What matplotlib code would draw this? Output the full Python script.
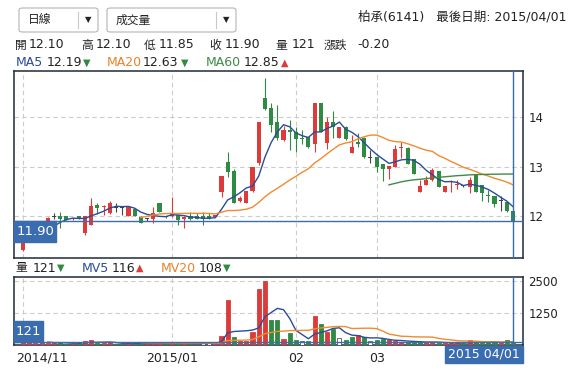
import matplotlib
matplotlib.use('Agg')
import matplotlib.pyplot as plt
from matplotlib.patches import Rectangle, FancyBboxPatch
from matplotlib.transforms import blended_transform_factory, ScaledTranslation
import numpy as np
import pandas as pd

plt.rcParams['font.family'] = ['DejaVu Sans', 'Noto Sans CJK TC']

# --- DATA (daily candles, 2014/10/31 .. 2015/04/01) ---
opens = [11.31, 11.52, 11.58, 11.66, 11.85, 12.00, 12.01, 12.00, 11.94, 12.00,
         11.65, 11.82, 12.22, 12.18, 12.06, 12.18, 12.17, 12.01, 12.15, 11.99,
         11.95, 11.94, 12.26, 11.99, 12.01, 12.02, 11.94, 12.00, 12.00, 12.00,
         12.00, 11.99, 12.49, 13.10, 12.92, 12.30, 12.26, 12.50, 13.08, 14.39,
         14.20, 13.91, 13.54, 13.74, 13.71, 13.57, 13.61, 13.46, 14.29, 13.49,
         13.91, 13.59, 13.81, 13.28, 13.51, 13.58, 13.19, 13.19, 13.05, 12.95,
         13.00, 13.38, 13.39, 13.15, 12.49, 12.64, 12.74, 12.91, 12.49, 12.62,
         12.64, 12.61, 12.59, 12.83, 12.64, 12.41, 12.41, 12.31, 12.29, 12.10]
highs = [11.60, 11.62, 11.70, 11.85, 11.98, 12.07, 12.09, 12.00, 11.96, 12.00,
         12.00, 12.36, 12.26, 12.23, 12.30, 12.27, 12.21, 12.20, 12.15, 12.00,
         11.97, 12.18, 12.27, 12.00, 12.38, 12.03, 12.00, 12.08, 12.06, 12.08,
         12.06, 12.03, 12.81, 13.30, 12.95, 12.40, 12.51, 13.00, 13.91, 14.79,
         14.30, 14.25, 13.82, 13.95, 13.81, 13.74, 13.61, 14.29, 14.29, 14.01,
         14.14, 13.81, 13.83, 13.64, 13.69, 13.60, 13.34, 13.20, 13.05, 13.02,
         13.44, 13.51, 13.40, 13.15, 12.73, 12.81, 12.97, 12.91, 12.61, 12.73,
         12.73, 12.63, 12.80, 12.83, 12.64, 12.52, 12.41, 12.41, 12.29, 12.10]
lows = [11.30, 11.50, 11.55, 11.62, 11.82, 11.95, 11.75, 11.92, 11.93, 11.94,
        11.62, 11.82, 12.05, 12.02, 12.05, 12.08, 12.02, 12.00, 12.00, 11.85,
        11.90, 11.85, 12.08, 11.97, 11.99, 11.82, 11.76, 11.93, 11.95, 11.82,
        11.95, 11.99, 12.39, 12.80, 12.26, 12.28, 12.26, 12.49, 13.03, 14.15,
        13.71, 13.55, 13.52, 13.34, 13.30, 13.47, 13.38, 13.30, 13.71, 13.35,
        13.58, 13.59, 13.55, 13.28, 13.41, 13.18, 13.07, 12.90, 12.71, 12.75,
        13.00, 13.17, 13.05, 12.85, 12.49, 12.64, 12.72, 12.59, 12.49, 12.49,
        12.55, 12.59, 12.46, 12.49, 12.30, 12.28, 12.19, 12.10, 12.09, 11.85]
closes = [11.51, 11.55, 11.65, 11.80, 11.97, 12.00, 11.94, 11.93, 11.95, 11.94,
          12.00, 12.20, 12.16, 12.19, 12.26, 12.18, 12.17, 12.18, 12.01, 11.86,
          11.95, 12.06, 12.09, 11.98, 12.05, 11.93, 11.99, 11.95, 11.95, 11.95,
          11.95, 12.03, 12.81, 12.90, 12.26, 12.37, 12.51, 13.00, 13.91, 14.18,
          13.85, 13.58, 13.74, 13.70, 13.56, 13.56, 13.41, 14.29, 13.71, 13.91,
          13.81, 13.81, 13.56, 13.41, 13.46, 13.19, 13.19, 13.00, 12.95, 13.01,
          13.35, 13.39, 13.05, 12.85, 12.61, 12.74, 12.93, 12.59, 12.61, 12.63,
          12.65, 12.61, 12.74, 12.49, 12.46, 12.40, 12.24, 12.31, 12.10, 11.90]
volumes = [150, 120, 90, 110, 80, 60, 120, 50, 40, 90,
           150, 180, 70, 60, 120, 50, 40, 90, 60, 80,
           40, 90, 70, 50, 120, 60, 80, 40, 50, 60,
           80, 100, 360, 1770, 320, 160, 160, 500, 2180, 2510,
           970, 970, 240, 460, 200, 160, 160, 1130, 800, 500,
           640, 280, 190, 320, 390, 320, 160, 200, 220, 180,
           160, 110, 100, 150, 120, 100, 100, 90, 80, 60,
           70, 50, 180, 120, 90, 100, 110, 60, 190, 121]
month_idx = [0, 24, 44, 57]
month_labels = ['2014/11', '2015/01', '02', '03']
price_ticks = [12, 13, 14]
vol_ticks = [1250, 2500]
last_date = '2015 04/01'

W, H = 578, 373
RED = '#dc3b3b'
GREEN = '#2f8a44'
FLAT = '#444444'
BLUE = '#3d6da8'
INK = '#222222'
FRAME = '#1e2a38'
GRID = '#cccccc'

fig = plt.figure(figsize=(W / 100, H / 100), dpi=100)


def fx(px):
    return px / W


def fy(py):
    return 1 - py / H


ax = fig.add_axes([fx(14), fy(258), fx(509), 187.3 / H])
axv = fig.add_axes([fx(14), fy(345), fx(509), 68.3 / H])

x = np.arange(len(closes))
o = np.array(opens)
c = np.array(closes)
hi = np.array(highs)
lo = np.array(lows)
v = np.array(volumes)

# --- price panel ---
cols = np.where(c > o, RED, np.where(c < o, GREEN, FLAT))
ax.vlines(x, lo, hi, colors=cols, lw=0.8, zorder=3)
body = np.maximum(np.abs(c - o), 0.02)
ax.bar(x, body, bottom=np.minimum(o, c) - np.where(c == o, 0.01, 0), width=0.66,
       color=cols, lw=0, zorder=3)

s = pd.Series(closes)
ax.plot(x, s.rolling(5).mean(), color='#2b4c9b', lw=1.0, zorder=4)
ax.plot(x, s.rolling(20).mean(), color='#f28a2e', lw=1.0, zorder=4)
ax.plot(x, s.rolling(60).mean(), color='#3f8a47', lw=1.0, zorder=4)

ax.set_xlim(-1.45, 80.6)
ax.set_ylim(11.15, 14.947)
ax.set_yticks(price_ticks)
ax.set_yticklabels([str(t) for t in price_ticks])
ax.set_xticks(month_idx)
ax.set_xticklabels([])
ax.grid(True, color=GRID, ls=(0, (4, 3)), lw=0.8)
ax.set_axisbelow(True)

ax.axhline(closes[-1], color=BLUE, lw=1, zorder=5)
ax.axvline(x[-1], color=BLUE, lw=1, zorder=5)
bl = blended_transform_factory(ax.transAxes, ax.transData)
ax.add_patch(Rectangle((0, closes[-1] - 20.5 / 49.3), 42 / 509, 20.5 / 49.3,
                       transform=bl, color='#3a6cb0', zorder=6, clip_on=False))
ax.text(21 / 509, closes[-1] - 10.5 / 49.3, f'{closes[-1]:.2f}', transform=bl,
        ha='center', va='center', color='white', fontsize=9.5, zorder=7)

# --- volume panel ---
prev = np.r_[o[0], c[:-1]]
vcols = np.where(c > prev, RED, np.where(c < prev, GREEN, 'white'))
vedge = np.where(c == prev, '#555555', vcols)
axv.bar(x, v, width=0.66, color=vcols, edgecolor=vedge, lw=0.6, zorder=3)
sv = pd.Series(volumes)
axv.plot(x, sv.rolling(5).mean(), color='#2b4c9b', lw=1.0, zorder=4)
axv.plot(x, sv.rolling(20).mean(), color='#f28a2e', lw=1.0, zorder=4)
axv.set_xlim(-1.45, 80.6)
axv.set_ylim(0, 2660)
axv.set_yticks(vol_ticks)
axv.set_yticklabels([str(t) for t in vol_ticks])
axv.set_xticks(month_idx)
axv.set_xticklabels(month_labels)
axv.grid(True, color=GRID, ls=(0, (4, 3)), lw=0.8)
axv.set_axisbelow(True)
axv.axhline(volumes[-1], color=BLUE, lw=1, zorder=5)
axv.axvline(x[-1], color=BLUE, lw=1, zorder=5)
blv = blended_transform_factory(axv.transAxes, axv.transData)
vh = 20.7 * 2660 / 68.3
axv.add_patch(Rectangle((0, volumes[-1]), 29 / 509, vh, transform=blv,
                        color='#3a6cb0', zorder=6, clip_on=False))
axv.text(14.5 / 509, volumes[-1] + vh / 2, str(volumes[-1]), transform=blv,
         ha='center', va='center', color='white', fontsize=9.5, zorder=7)

for a in (ax, axv):
    a.yaxis.tick_right()
    a.tick_params(axis='y', length=0, pad=4, labelsize=8.5, labelcolor=INK)
    a.tick_params(axis='x', length=0, pad=5, labelsize=9, labelcolor=INK)
    for sp in a.spines.values():
        sp.set_color(FRAME)
        sp.set_linewidth(1.1)

# keep the first month label inside the frame
lab0 = axv.get_xticklabels()[0]
lab0.set_horizontalalignment('left')
lab0.set_transform(lab0.get_transform() + ScaledTranslation(-7 / 100, 0, fig.dpi_scale_trans))

# date box on the axis
fig.add_artist(Rectangle((fx(445), fy(363)), fx(78), 17.5 / H, transform=fig.transFigure,
                         color='#3a6cb0', zorder=6))
fig.text(fx(484), fy(354), last_date, ha='center', va='center', color='white', fontsize=9,
         zorder=7)

# --- header ---
for x0, x1, div, label, tx in [(19, 98, 78, '日線', 28), (107, 236, 216, '成交量', 116)]:
    fig.add_artist(FancyBboxPatch((fx(x0), fy(32)), fx(x1 - x0), 24 / H,
                                  boxstyle='round,pad=0,rounding_size=0.006',
                                  transform=fig.transFigure, fc='white', ec='#b5b5b5', lw=0.8))
    fig.add_artist(plt.Line2D([fx(div), fx(div)], [fy(12), fy(28)], color='#c8c8c8', lw=0.8))
    fig.text(fx(tx), fy(20), label, ha='left', va='center', fontsize=8.5, color=INK)
    fig.text(fx((div + x1) / 2), fy(20), '▼', ha='center', va='center', fontsize=6, color=INK)

fig.text(fx(566), fy(17), '柏承(6141)   最後日期: 2015/04/01', ha='right', va='center',
         fontsize=9, color=INK)

row1 = [(15, '開', 8.5), (29, '12.10', 9), (81, '高', 8.5), (96, '12.10', 9),
        (144, '低', 8.5), (159, '11.85', 9), (209, '收', 8.5), (225, '11.90', 9),
        (275, '量', 8.5), (292, '121', 9), (324, '漲跌', 8.5), (357, '-0.20', 9)]
for px, t, fs in row1:
    fig.text(fx(px), fy(45), t, ha='left', va='center', fontsize=fs, color=INK)


def legend_row(py, items):
    for px, t, col, fs in items:
        fig.text(fx(px), fy(py), t, ha='left', va='center', fontsize=fs, color=col)


legend_row(62.5, [(16, 'MA5', '#2b4c9b', 9), (47, '12.19', INK, 9), (83, '▼', GREEN, 7),
                  (107, 'MA20', '#e8822a', 9), (143, '12.63', INK, 9), (181, '▼', GREEN, 7),
                  (206, 'MA60', '#3f8a47', 9), (244, '12.85', INK, 9), (281, '▲', RED, 7)])
legend_row(268, [(15, '量', INK, 8.5), (33, '121', INK, 9), (57, '▼', GREEN, 7),
                 (82, 'MV5', '#2b4c9b', 9), (112, '116', INK, 9), (136, '▲', RED, 7),
                 (161, 'MV20', '#e8822a', 9), (199, '108', INK, 9), (223, '▼', GREEN, 7)])

fig.savefig('out.png', dpi=100)
